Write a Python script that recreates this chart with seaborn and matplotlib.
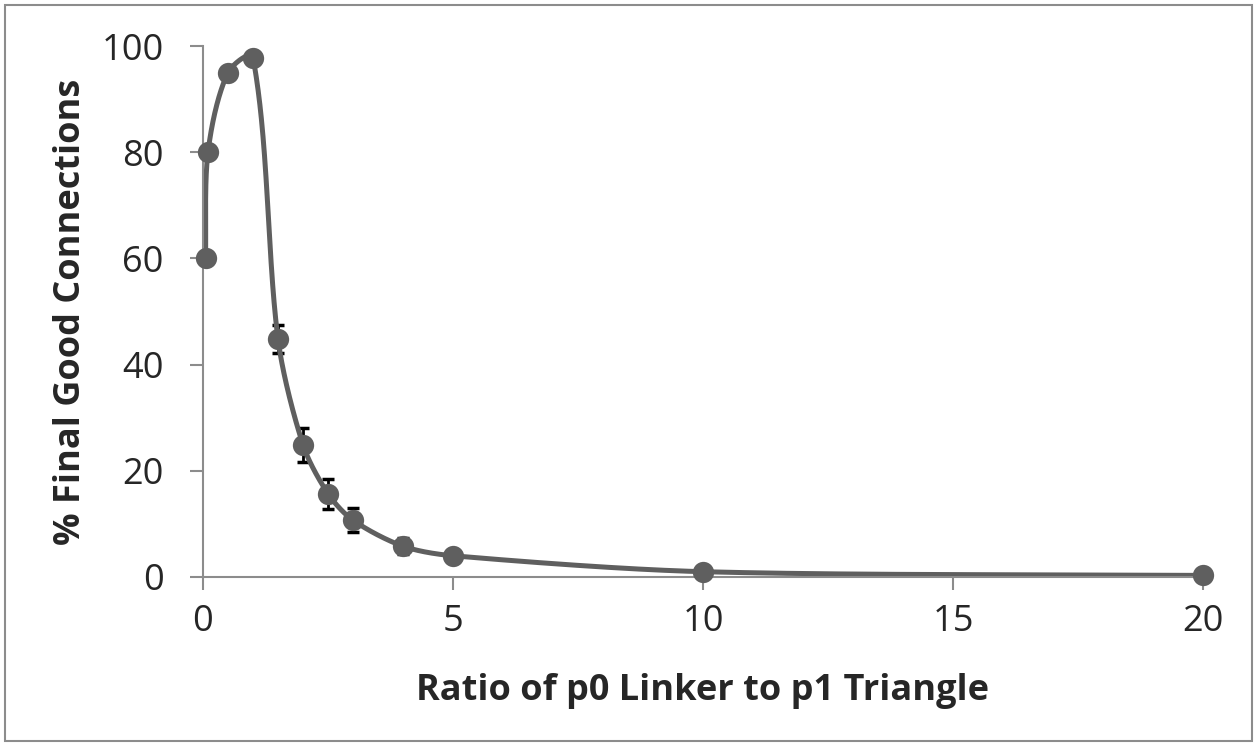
import numpy as np
import pandas as pd
import seaborn as sns
from matplotlib import pyplot as plt
from matplotlib.patches import Rectangle

# data
ratio = [0.05, 0.1, 0.5, 1.0, 1.5, 2.0, 2.5, 3.0, 4.0, 5.0, 10.0, 20.0]
good_pct = [60.0, 80.0, 95.0, 97.8, 44.8, 24.9, 15.7, 10.7, 5.8, 4.0, 1.0, 0.3]
err = [0.0, 0.0, 0.0, 0.0, 2.7, 3.2, 2.8, 2.3, 1.5, 0.5, 0.3, 0.0]

df = pd.DataFrame({'Ratio': ratio, 'Good': good_pct, 'Err': err})

# axes box in pixels (fig is 1255 x 745)
x0_px, x1_px, y0_px, y1_px = 203, 1203, 577, 46
sx = (x1_px - x0_px) / 20.0   # px per x unit
sy = (y0_px - y1_px) / 100.0  # px per y unit


# Excel style smoothed line: bezier through the points, worked out in screen space
def smooth_line(x, y, n=80, k=0.3):
    p = np.column_stack([np.asarray(x, float) * sx, np.asarray(y, float) * sy])
    m = len(p)
    tang = np.zeros_like(p)
    for i in range(m):
        a = p[max(i - 1, 0)]
        b = p[min(i + 1, m - 1)]
        d = b - a
        tang[i] = d / np.hypot(*d)
    t = np.linspace(0, 1, n)[:, None]
    pts = []
    for i in range(m - 1):
        L = np.hypot(*(p[i + 1] - p[i]))
        c1 = p[i] + tang[i] * L * k
        c2 = p[i + 1] - tang[i + 1] * L * k
        b = (1 - t) ** 3 * p[i] + 3 * (1 - t) ** 2 * t * c1 + 3 * (1 - t) * t ** 2 * c2 + t ** 3 * p[i + 1]
        pts.append(b)
    pts = np.vstack(pts)
    return pd.DataFrame({'Ratio': pts[:, 0] / sx, 'Good': pts[:, 1] / sy})


sm = smooth_line(ratio, good_pct)

sns.set_style('white')
plt.rcParams['font.family'] = ['Open Sans', 'DejaVu Sans']

fig = plt.figure(figsize=(12.55, 7.45), dpi=100)
ax = fig.add_axes([x0_px / 1255, 1 - y0_px / 745, (x1_px - x0_px) / 1255, (y0_px - y1_px) / 745])

line_col = '#5f5f5f'
ax.plot(sm['Ratio'], sm['Good'], color=line_col, lw=3.6, zorder=2, clip_on=False)
ax.errorbar(df['Ratio'], df['Good'], yerr=df['Err'], fmt='none', ecolor='black',
            elinewidth=2, capsize=4.5, capthick=2.5, zorder=1, clip_on=False)
sns.scatterplot(x='Ratio', y='Good', data=df, ax=ax, color=line_col, s=235,
                edgecolor=line_col, linewidth=0, zorder=3, clip_on=False)

ax.set_xlim(0, 20)
ax.set_ylim(0, 100)
ax.set_xticks([0, 5, 10, 15, 20])
ax.set_yticks([0, 20, 40, 60, 80, 100])
for s in ['top', 'right']:
    ax.spines[s].set_visible(False)
for s in ['left', 'bottom']:
    ax.spines[s].set_color('#8c8c8c')
    ax.spines[s].set_linewidth(1.5)
ax.tick_params(axis='both', direction='out', length=9.4, width=1.5, color='#8c8c8c',
               labelsize=26, left=True, bottom=True)
ax.tick_params(axis='y', pad=19)
ax.tick_params(axis='x', pad=10)
ax.set_xlabel('Ratio of p0 Linker to p1 Triangle', fontsize=26, fontweight='bold', labelpad=24)
ax.set_ylabel('% Final Good Connections', fontsize=26, fontweight='bold', labelpad=9)

# outer chart border
fig.patches.append(Rectangle((5 / 1255, 4 / 745), 1247 / 1255, 736 / 745, transform=fig.transFigure,
                             fill=False, edgecolor='#8c8c8c', lw=1.5))

fig.savefig('out.png', dpi=100)
